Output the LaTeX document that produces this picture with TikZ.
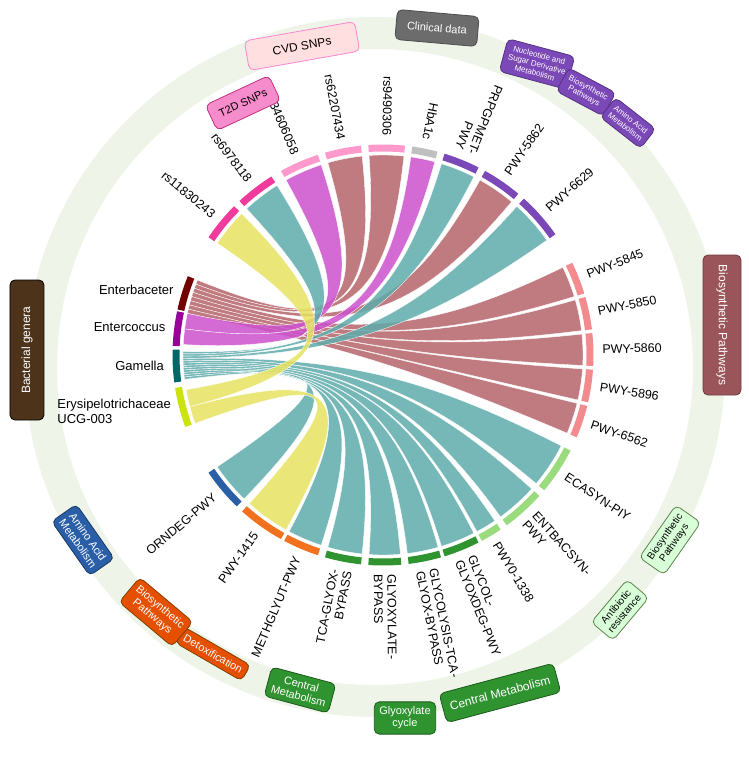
\documentclass[tikz,border=0pt]{standalone}
\usepackage{fontspec}
\setmainfont{Liberation Sans}
\usetikzlibrary{positioning}
\definecolor{ribred}{HTML}{B5646A}
\definecolor{ribmag}{HTML}{CC50CC}
\definecolor{ribteal}{HTML}{5EAAAA}
\definecolor{ribyel}{HTML}{E6E360}
\definecolor{segpink}{HTML}{F28A8E}
\definecolor{segpurp}{HTML}{7B48B8}
\definecolor{seggreen}{HTML}{2F942F}
\definecolor{seglgreen}{HTML}{9ADB7E}
\definecolor{segorange}{HTML}{F2711E}
\definecolor{segblue}{HTML}{2A5FA8}
\definecolor{ringgreen}{HTML}{EEF5E8}
\newcommand\ribbon[5]{\fill[#1,fill opacity=.85,draw=white,line width=.35pt]
  (#2:200) arc (#2:#3:200) .. controls (#3:45) and (#4:45) .. (#4:200) arc (#4:#5:200)
  .. controls (#5:45) and (#2:45) .. (#2:200);}
\newcommand\seg[3]{\draw[#1,line width=7pt] (#2:207) arc (#2:#3:207);}
\tikzset{
  catbox/.style={rounded corners=5pt,draw,align=center,font=\fontsize{11}{12}\selectfont,inner sep=5pt,line width=.8pt},
  labw/.style={anchor=west,align=left,font=\fontsize{12.5}{13.5}\selectfont},
  labe/.style={anchor=east,align=right,font=\fontsize{12.5}{13.5}\selectfont},
  genus/.style={anchor=east,align=left,font=\fontsize{13}{15}\selectfont}
}
\begin{document}
\begin{tikzpicture}[x=1pt,y=1pt]
  \useasboundingbox (-383,-403) rectangle (366,355);
  % outer ring
  \fill[ringgreen,even odd rule] (-8,-12) circle (350) (-8,-12) circle (318);
  % ribbons
  \foreach \c/\d [count=\i] in {96/106,84/94,50/61,17/26,7/16,-3/6,-13/-4,-23/-14}{
    \pgfmathsetmacro\sa{158+(\i-1)*10/8}
    \pgfmathsetmacro\sb{\sa+10/8}
    \ribbon{ribred}{\sa}{\sb}{\c}{\d}
  }
  \foreach \c/\d [count=\i] in {108/119,75/82}{
    \pgfmathsetmacro\sa{168+(\i-1)*4.5}
    \pgfmathsetmacro\sb{\sa+4.5}
    \ribbon{ribmag}{\sa}{\sb}{\c}{\d}
  }
  \foreach \c/\d [count=\i] in {122/133,63/73,35/48,-40/-27,-54/-42,-62/-56,-73/-63,-83/-74,-94/-85,-106/-96,-118/-108,-146/-134}{
    \pgfmathsetmacro\sa{179+(\i-1)*8/12}
    \pgfmathsetmacro\sb{\sa+8/12}
    \ribbon{ribteal}{\sa}{\sb}{\c}{\d}
  }
  \foreach \c/\d [count=\i] in {135/146,228/241}{
    \pgfmathsetmacro\sa{190+(\i-1)*5}
    \pgfmathsetmacro\sb{\sa+5}
    \ribbon{ribyel}{\sa}{\sb}{\c}{\d}
  }
  % segments
  \seg{black!55!red}{158}{167.5}
  \seg{violet!80!magenta}{168}{177.5}
  \seg{teal!80!black}{178.5}{187.5}
  \seg{yellow!80!green}{189}{200}
  \seg{magenta!70!pink}{135}{146}
  \seg{magenta!70!pink}{122}{133}
  \seg{pink!80!magenta}{108}{119}
  \seg{pink!80!magenta}{96}{106}
  \seg{pink!80!magenta}{84}{94}
  \seg{gray!50}{75}{82}
  \seg{segpurp}{63}{73}
  \seg{segpurp}{50}{61}
  \seg{segpurp}{35}{48}
  \foreach \c/\d in {17/26,7/16,-3/6,-13/-4,-23/-14}{\seg{segpink}{\c}{\d}}
  \foreach \c/\d in {-40/-27,-54/-42,-62/-56}{\seg{seglgreen}{\c}{\d}}
  \foreach \c/\d in {-73/-63,-83/-74,-94/-85,-106/-96}{\seg{seggreen}{\c}{\d}}
  \seg{segorange}{242}{252}
  \seg{segorange}{228}{241}
  \seg{segblue}{214}{226}
  % labels
  \node[genus] (enterb) at (162.5:216) {Enterbaceter};
  \node[genus] (enterc) at (172.5:216) {Entercoccus};
  \node[genus] (gam) at (183:216) {Gamella};
  \node[genus] (erys) at (195:216) {Erysipelotrichaceae\\UCG-003};
  \node[labe,rotate=-39.5] (rs1) at (140.5:216) {rs11830243};
  \node[labe,rotate=-52.5] (rs2) at (127.5:216) {rs6978118};
  \node[labe,rotate=-66.5] (rs3) at (113.5:216) {rs34606058};
  \node[labe,rotate=-79] (rs4) at (101:216) {rs62207434};
  \node[labe,rotate=-91] (rs5) at (89:216) {rs9490306};
  \node[labe,rotate=-101.5] (hba) at (78.5:216) {HbA1c};
  \node[labe,rotate=-112] (prpg) at (68:216) {PRPGPMET-\\PWY};
  \node[labw,rotate=55.5] (p5862) at (55.5:216) {PWY-5862};
  \node[labw,rotate=41.5] (p6629) at (41.5:216) {PWY-6629};
  \node[labw,rotate=21.5] (p5845) at (21.5:216) {PWY-5845};
  \node[labw,rotate=11.5] (p5850) at (11.5:216) {PWY-5850};
  \node[labw,rotate=1.5] (p5860) at (1.5:216) {PWY-5860};
  \node[labw,rotate=-8.5] (p5896) at (-8.5:216) {PWY-5896};
  \node[labw,rotate=-18.5] (p6562) at (-18.5:216) {PWY-6562};
  \node[labw,rotate=-33.5] (ecasyn) at (-33.5:216) {ECASYN-PIY};
  \node[labw,rotate=-48] (entbac) at (-48:216) {ENTBACSYN-\\PWY};
  \node[labw,rotate=-59] (p1338) at (-59:216) {PWY0-1338};
  \node[labw,rotate=-68] (glycol) at (-68:216) {GLYCOL-\\GLYOXDEG-PWY};
  \node[labw,rotate=-78.5] (glycolys) at (-78.5:216) {GLYCOLYSIS-TCA-\\GLYOX-BYPASS};
  \node[labw,rotate=-89.5] (glyox) at (-89.5:216) {GLYOXYLATE-\\BYPASS};
  \node[labe,rotate=79] (tca) at (259:216) {TCA-GLYOX-\\BYPASS};
  \node[labe,rotate=67] (meth) at (247:216) {METHGLYUT-PWY};
  \node[labe,rotate=54.5] (p1415) at (234.5:216) {PWY-1415};
  \node[labe,rotate=40] (orndeg) at (220:216) {ORNDEG-PWY};
  % category boxes
  \node[catbox,fill=magenta!45,draw=magenta!75!black,rotate=25,minimum width=70pt,minimum height=28pt] (t2d) at (-140,252) {T2D SNPs};
  \node[catbox,fill=pink!50,draw=pink!70!magenta,rotate=10,minimum width=112pt,minimum height=30pt,font=\fontsize{12}{13}\selectfont] (cvd) at (-81,309) {CVD SNPs};
  \node[catbox,fill=gray!85!black,draw=gray!60!black,text=white,rotate=-5,minimum width=82pt,minimum height=30pt] (clin) at (54,327) {Clinical data};
  \node[catbox,fill=segpurp,draw=segpurp!70!black,text=white,rotate=-15,font=\fontsize{8}{9}\selectfont] (nuc) at (154,291) {Nucleotide and\\Sugar Derivative\\Metabolism};
  \node[catbox,fill=segpurp,draw=segpurp!70!black,text=white,rotate=-28,font=\fontsize{8}{9}\selectfont] (bioP) at (203,263) {Biosynthetic\\Pathways};
  \node[catbox,fill=segpurp,draw=segpurp!70!black,text=white,rotate=-38,font=\fontsize{8}{9}\selectfont] (aaP) at (245,232) {Amino Acid\\Metabolism};
  \node[catbox,fill=ribred!85!black,draw=ribred!60!black,text=white,rotate=-90,minimum height=38pt,minimum width=140pt,font=\fontsize{12}{13}\selectfont] (bioR) at (339,30) {Biosynthetic Pathways};
  \node[catbox,fill=green!15!white,draw=seglgreen!60!black,rotate=55,font=\fontsize{10}{11}\selectfont] (bioG) at (287,-185) {Biosynthetic\\Pathways};
  \node[catbox,fill=green!15!white,draw=seglgreen!60!black,rotate=50,font=\fontsize{10}{11}\selectfont] (anti) at (237,-255) {Antibiotic\\resistance};
  \node[catbox,fill=seggreen,draw=seggreen!60!black,text=white,rotate=15,minimum width=118pt,minimum height=30pt,font=\fontsize{12}{13}\selectfont] (cenR) at (117,-338) {Central Metabolism};
  \node[catbox,fill=seggreen,draw=seggreen!60!black,text=white] (glyc) at (22,-363) {Glyoxylate\\cycle};
  \node[catbox,fill=seggreen,draw=seggreen!60!black,text=white,rotate=-15] (cenL) at (-83,-335) {Central\\Metabolism};
  \node[catbox,fill=orange!70!red!90!black,draw=orange!50!black,text=white,rotate=-30] (detox) at (-170,-299) {Detoxification};
  \node[catbox,fill=orange!70!red!90!black,draw=orange!50!black,text=white,rotate=-40] (bioO) at (-227,-257) {Biosynthetic\\Pathways};
  \node[catbox,fill=segblue,draw=segblue!60!black,text=white,rotate=-55] (aaB) at (-300,-185) {Amino Acid\\Metabolism};
  \node[catbox,fill=brown!40!black,draw=black,text=white,rotate=90,minimum height=34pt,minimum width=140pt,font=\fontsize{12}{13}\selectfont] (bact) at (-356,5) {Bacterial genera};
\end{tikzpicture}
\end{document}
